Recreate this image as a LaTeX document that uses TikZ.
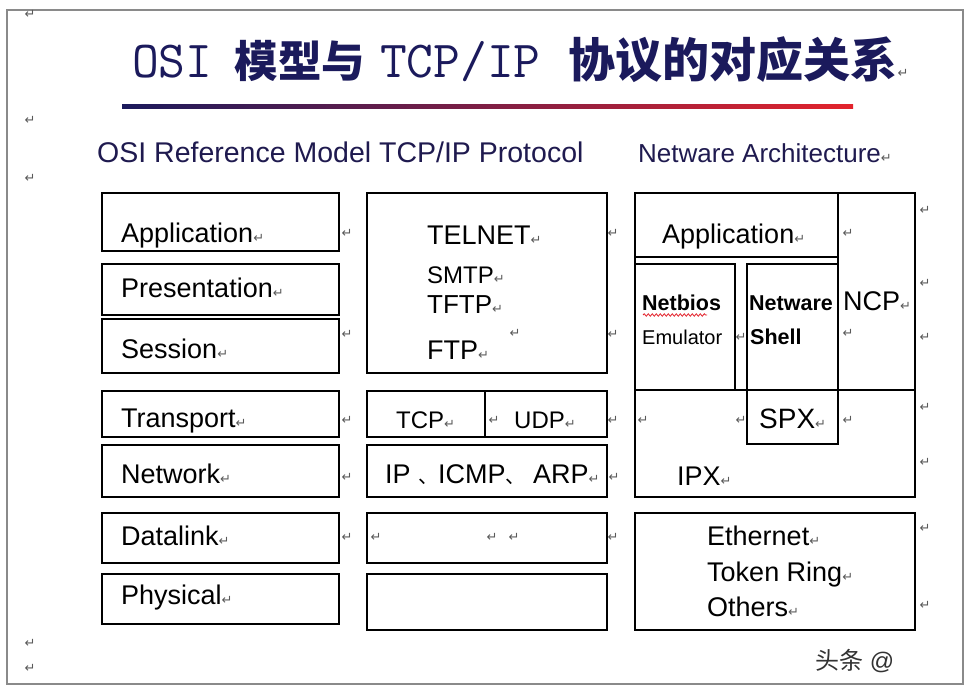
\documentclass[tikz,border=0pt]{standalone}
\usepackage{fontspec}
\setmainfont{Liberation Sans}
\newfontfamily\cjk{Noto Sans CJK SC}
\newfontfamily\symfont{DejaVu Sans}
\usetikzlibrary{decorations.pathmorphing}
\definecolor{headnavy}{HTML}{1F1A4F}
\definecolor{titlenavy}{HTML}{1B1A5C}
\definecolor{linered}{HTML}{E3232C}
\definecolor{markgray}{HTML}{5A5A5A}
\definecolor{pagegray}{HTML}{8A8A8A}
\newcommand\retmark{{\symfont\fontsize{13}{13}\selectfont\textcolor{markgray}{↵}}}
\newcommand\dunhao{{\cjk\fontsize{20}{20}\selectfont 、}}
\begin{document}
\begin{tikzpicture}[x=1pt,y=-1pt,
  layerbox/.style={draw=black,line width=1.7pt},
  layertext/.style={anchor=base west,inner sep=0pt,font=\fontsize{27}{27}\selectfont,text=black},
  smalltext/.style={anchor=base west,inner sep=0pt,font=\fontsize{20}{22}\selectfont,text=black},
  boldtext/.style={smalltext,font=\fontsize{21.5}{22}\selectfont\bfseries},
  headtext/.style={anchor=base west,inner sep=0pt,text=headnavy},
  retnode/.style={inner sep=0pt}]
\fill[white] (0,0) rectangle (970,694);
\useasboundingbox (0,0) rectangle (970,694);
\draw[pagegray,line width=1.2pt] (7,10) rectangle (963,684);
\node[anchor=base west,inner sep=0pt,text=titlenavy] (title) at (132,77)
  {{\fontsize{52}{52}\selectfont\ttfamily OSI}\hspace{22pt}{\fontsize{43.5}{44}\selectfont\cjk\bfseries 模型与}\hspace{15pt}{\fontsize{52}{52}\selectfont\ttfamily TCP/IP}\hspace{28pt}{\fontsize{47}{47}\selectfont\cjk\bfseries 协议的对应关系}\retmark};
\shade[left color=titlenavy,right color=linered] (122,104) rectangle (853,108);
\node[headtext,font=\fontsize{28.5}{29}\selectfont] (osihead) at (97,162) {OSI Reference Model TCP/IP Protocol};
\node[headtext,font=\fontsize{26}{27}\selectfont] (nwhead) at (638,162) {Netware Architecture\retmark};
\foreach \ytop/\ybot in {193/251,264/315,319/373,391/437,445/497,513/563,574/624}
  \draw[layerbox] (102,\ytop) rectangle (339,\ybot);
\foreach \ytop/\ybot in {193/373,391/437,445/497,513/563,574/630}
  \draw[layerbox] (367,\ytop) rectangle (607,\ybot);
\draw[layerbox] (485,391) -- (485,437);
\draw[layerbox] (635,193) rectangle (915,497);
\draw[layerbox] (635,193) rectangle (838,257);
\draw[layerbox] (635,264) rectangle (735,390);
\draw[layerbox] (747,264) rectangle (838,390);
\draw[layerbox] (838,193) -- (838,444);
\draw[layerbox] (635,390) -- (915,390);
\draw[layerbox] (747,390) rectangle (838,444);
\draw[layerbox] (635,513) rectangle (915,630);
\node[layertext] (osiapp) at (121,242) {Application\retmark};
\node[layertext] (osipres) at (121,297) {Presentation\retmark};
\node[layertext] (osisess) at (121,358) {Session\retmark};
\node[layertext] (ositrans) at (121,427) {Transport\retmark};
\node[layertext] (osinet) at (121,483) {Network\retmark};
\node[layertext] (osilink) at (121,545) {Datalink\retmark};
\node[layertext] (osiphys) at (121,604) {Physical\retmark};
\node[layertext] (telnet) at (427,244) {TELNET\retmark};
\node[layertext,font=\fontsize{24}{24}\selectfont] (smtp) at (427,283) {SMTP\retmark};
\node[layertext,font=\fontsize{26}{26}\selectfont] (tftp) at (427,313) {TFTP\retmark};
\node[layertext] (ftp) at (427,359) {FTP\retmark};
\node[layertext,font=\fontsize{24}{24}\selectfont] (tcp) at (396,428) {TCP\retmark};
\node[layertext,font=\fontsize{24}{24}\selectfont] (udp) at (514,428) {UDP\retmark};
\node[layertext] (ipline) at (385,483) {IP \dunhao ICMP\dunhao\ ARP\retmark};
\node[layertext] (nwapp) at (662,243) {Application\retmark};
\node[boldtext] (netbios) at (642,310) {Netbios};
\node[smalltext] (emul) at (642,344) {Emulator};
\node[boldtext] (netware) at (749,310) {Netware};
\node[boldtext] (shell) at (750,344) {Shell};
\node[layertext] (ncp) at (843,310) {NCP\retmark};
\node[layertext,font=\fontsize{28}{28}\selectfont] (spx) at (759,428) {SPX\retmark};
\node[layertext] (ipx) at (677,485) {IPX\retmark};
\node[layertext] (ether) at (707,545) {Ethernet\retmark};
\node[layertext] (token) at (707,581) {Token Ring\retmark};
\node[layertext] (others) at (707,616) {Others\retmark};
\draw[linered,line width=0.8pt,decorate,decoration={snake,amplitude=1.2pt,segment length=4pt}] (643,315) -- (707,315);
\foreach \x/\y [count=\i] in {30/14,30/120,30/178,30/643,30/668,
    347/233,347/334,347/420,347/477,347/537,
    613/233,613/334,613/420,614/477,613/537,
    515/333,494/420,376/537,492/537,514/537,
    643/420,741/420,741/337,848/233,848/333,848/420,
    925/210,925/283,925/337,925/407,925/462,925/528,925/605}
  \node[retnode] (ret\i) at (\x,\y) {\retmark};
\node[anchor=base west,inner sep=0pt,text=black!80,font=\fontsize{24}{24}\selectfont] (mark) at (815,669) {{\cjk 头条} @};
\end{tikzpicture}
\end{document}
